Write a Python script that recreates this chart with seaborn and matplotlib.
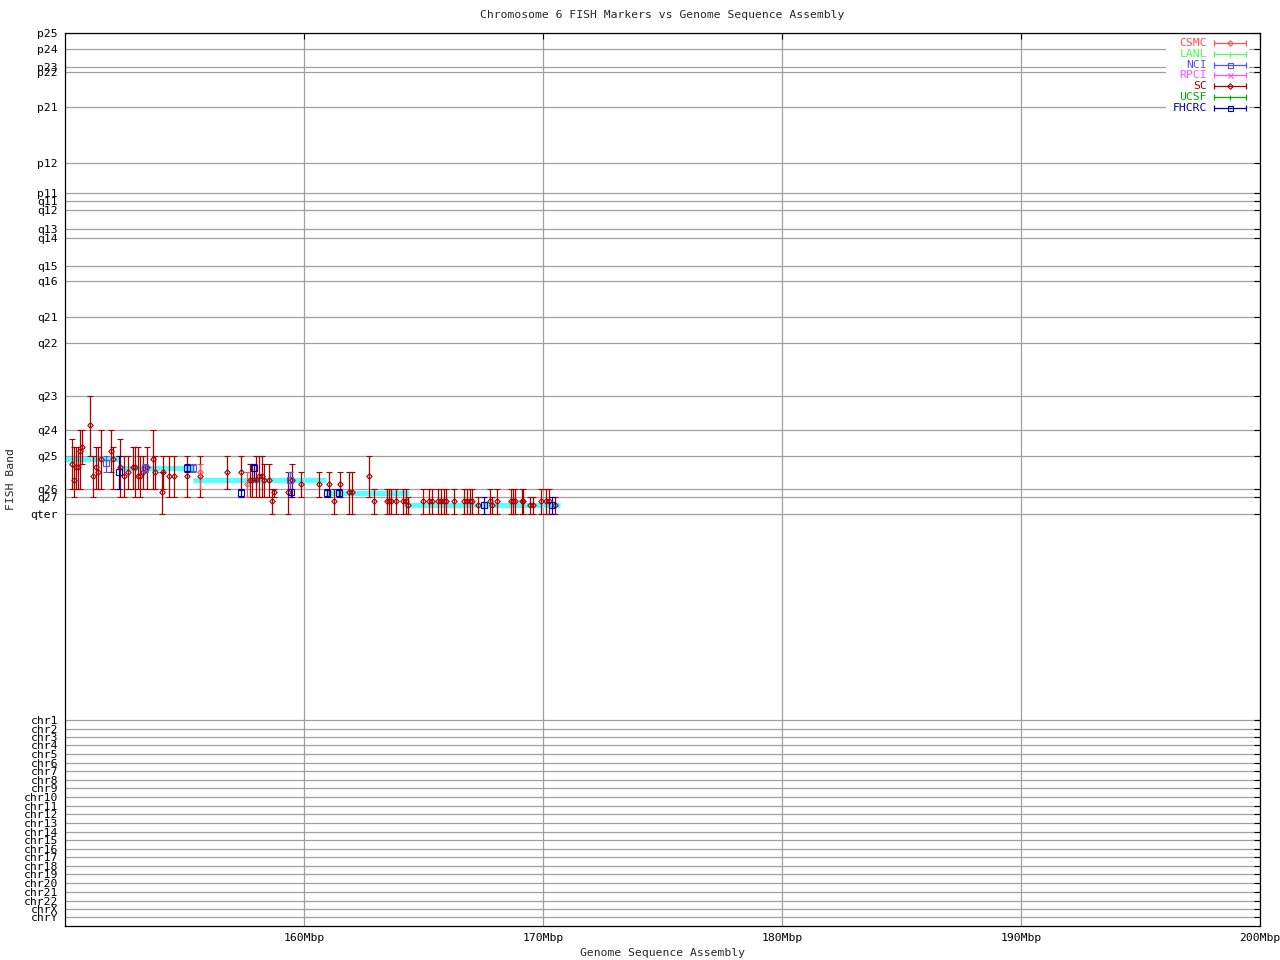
import numpy as np
import pandas as pd
import matplotlib
matplotlib.use('Agg')
import matplotlib.pyplot as plt
from matplotlib.patches import Rectangle
import seaborn as sns

# ---------------- data ----------------
# band ticks, y in "band coordinate" units (top of p arm = 33)
band_names = ['p25', 'p24', 'p23', 'p22', 'p21', 'p12', 'p11', 'q11', 'q12',
              'q13', 'q14', 'q15', 'q16', 'q21', 'q22', 'q23', 'q24', 'q25',
              'q26', 'q27', 'qter']
band_pos = [33, 49.3, 67.3, 72.3, 107, 163, 193.3, 201.3, 210,
            229.3, 238.3, 266.3, 281.3, 317.3, 343.3, 396.3, 429.7, 456,
            489.3, 497.3, 514]

chr_names = ['chr%d' % i for i in range(1, 23)] + ['chrX', 'chrY']
chr_pos = [720, 729, 737.3, 745, 754, 762.7, 771.3, 780, 788.3, 797, 806, 814,
           822.7, 831.7, 840, 849, 857, 865.7, 874.3, 883.3, 891.7, 900.7,
           909.3, 917.3]

xtick_mbp = [160, 170, 180, 190, 200]

# assembly (cyan) segments
asm_start = [150.0, 152.3, 155.35, 160.9, 164.2]
asm_end = [152.2, 155.4, 160.9, 164.4, 170.7]
asm_band = [459, 468, 480, 493, 505]

# SC markers: position (Mbp), band range low/high, band mid
sc_pos = [150.31, 150.39, 150.47, 150.56, 150.63, 150.71, 151.06, 151.18, 151.31,
          151.39, 151.52, 151.92, 152.02, 152.31, 152.48, 152.65, 152.83, 152.94,
          153.05, 153.14, 153.25, 153.44, 153.67, 153.75, 154.05, 154.11, 154.34,
          154.57, 155.12, 155.66, 156.79, 157.35, 157.74, 157.84, 157.98, 158.12,
          158.23, 158.34, 158.54, 158.68, 158.74, 159.34, 159.51, 159.86, 160.64,
          161.06, 161.27, 161.52, 161.87, 162.00, 162.73, 162.94, 163.46, 163.56,
          163.64, 163.84, 164.15, 164.25, 164.34, 164.99, 165.24, 165.34, 165.62,
          165.73, 165.85, 165.94, 166.28, 166.71, 166.82, 166.95, 167.04, 167.29,
          167.78, 167.88, 168.06, 168.65, 168.73, 168.83, 169.11, 169.18, 169.46,
          169.57, 169.90, 170.13, 170.26, 170.50]
sc_lo = [439, 447, 447, 447, 430, 430, 396, 456, 447,
         447, 430, 430, 447, 439, 456, 456, 447, 447,
         447, 456, 456, 447, 430, 456, 472, 456, 456,
         456, 456, 456, 456, 456, 464, 464, 456, 456,
         456, 464, 464, 489, 489, 472, 464, 472, 472,
         472, 489, 472, 472, 472, 456, 489, 489, 489,
         489, 489, 489, 489, 497, 489, 489, 489, 489,
         489, 489, 489, 489, 489, 489, 489, 489, 497,
         489, 497, 489, 489, 489, 489, 489, 489, 497,
         497, 489, 489, 489, 497]
sc_hi = [489, 497, 489, 489, 489, 464, 456, 497, 489,
         489, 489, 472, 489, 497, 497, 489, 489, 497,
         489, 497, 489, 489, 489, 489, 514, 489, 497,
         497, 497, 497, 489, 489, 497, 497, 497, 497,
         497, 497, 497, 514, 497, 514, 497, 497, 497,
         497, 514, 497, 514, 514, 497, 514, 514, 514,
         514, 514, 514, 514, 514, 514, 514, 514, 514,
         514, 514, 514, 514, 514, 514, 514, 514, 514,
         514, 514, 514, 514, 514, 514, 514, 514, 514,
         514, 514, 514, 514, 514]
sc_mid = [464, 480, 467, 467, 451, 447, 425, 476, 467,
          472, 459, 451, 459, 467, 476, 472, 467, 467,
          476, 476, 472, 467, 459, 472, 492, 472, 476,
          476, 476, 476, 472, 472, 480, 480, 480, 476,
          476, 480, 480, 501, 492, 492, 480, 484, 484,
          484, 501, 484, 492, 492, 476, 501, 501, 501,
          501, 501, 501, 501, 505, 501, 501, 501, 501,
          501, 501, 501, 501, 501, 501, 501, 501, 505,
          501, 505, 501, 501, 501, 501, 501, 501, 505,
          505, 501, 501, 501, 505]

fh_pos = [152.27, 155.12, 157.35, 157.92, 159.45, 160.95, 161.48, 167.53, 170.36]
fh_lo = [456, 464, 489, 464, 489, 489, 489, 497, 497]
fh_hi = [489, 472, 497, 480, 497, 497, 497, 514, 514]
fh_mid = [472, 468, 493, 468, 492, 493, 493, 505, 505]

nci_pos = [151.73, 153.35, 155.36, 159.41]
nci_lo = [456, 464, 464, 472]
nci_hi = [472, 472, 472, 489]
nci_mid = [463, 468, 468, 480]

csmc_pos = [155.66, 157.63]
csmc_lo = [464, 472]
csmc_hi = [489, 497]
csmc_mid = [472, 484]

legend_labels = ['CSMC', 'LANL', 'NCI', 'RPCI', 'SC', 'UCSF', 'FHCRC']
legend_colors = ['#ff5050', '#50ff50', '#5050ff', '#ff50ff', '#aa0000', '#00aa00', '#0000aa']
legend_markers = ['D', '|', 's', 'x', 'D', '|', 's']

# ---------------- style ----------------
sns.set_style('white')
plt.rcParams['font.family'] = ['DejaVu Sans Mono']
FS = 8.2

W, H = 1280, 960
def fx(px):
    return px / W
def fy(py):
    return 1 - py / H

fig = plt.figure(figsize=(12.8, 9.6), dpi=100)
ax = fig.add_axes([fx(65), fy(926), (1260 - 65) / W, (926 - 33) / H])
ax.set_axisbelow(True)

# assembly segments
ax.hlines(asm_band, asm_start, asm_end, color='#5cffff', lw=3.8, zorder=2)


def draw_lab(pos, lo, hi, mid, color, marker, ms):
    df = pd.DataFrame({'pos': pos, 'lo': lo, 'hi': hi, 'mid': mid})
    yerr = [df['mid'] - df['lo'], df['hi'] - df['mid']]
    ax.errorbar(df['pos'], df['mid'], yerr=yerr, fmt=marker, color=color,
                mfc='none', ms=ms, mew=0.8, elinewidth=0.9, capsize=2.5,
                capthick=0.9, zorder=3)


draw_lab(sc_pos, sc_lo, sc_hi, sc_mid, '#aa0000', 'D', 2.8)
draw_lab(csmc_pos, csmc_lo, csmc_hi, csmc_mid, '#ff5050', 'D', 2.8)
draw_lab(nci_pos, nci_lo, nci_hi, nci_mid, '#5050ff', 's', 4.2)
draw_lab(fh_pos, fh_lo, fh_hi, fh_mid, '#0000aa', 's', 4.2)

# axes, ticks, grid
ax.set_xlim(150, 200)
ax.set_ylim(926, 33)
ax.set_xticks(xtick_mbp)
ax.set_xticklabels(['%dMbp' % v for v in xtick_mbp])
ax.set_yticks(band_pos + chr_pos)
ax.set_yticklabels(band_names + chr_names)
ax.grid(True, color='#a0a0a0', lw=0.9)
ax.tick_params(direction='in', length=4.5, width=0.8, top=True, right=True,
               labelsize=FS, pad=5, colors='black')
for s in ax.spines.values():
    s.set_linewidth(0.9)
    s.set_color('black')

# texts
fig.text(fx(662), fy(15), 'Chromosome 6 FISH Markers vs Genome Sequence Assembly',
         ha='center', va='center', fontsize=FS)
fig.text(fx(662), fy(953), 'Genome Sequence Assembly', ha='center', va='center', fontsize=FS)
fig.text(fx(11), fy(479), 'FISH Band', ha='center', va='center', rotation=90, fontsize=FS)

# legend (drawn by hand, white block hides the grid)
ax.add_patch(Rectangle((fx(1166), fy(115)), (1249 - 1166) / W, (115 - 36) / H,
                       transform=fig.transFigure, fc='white', ec='none', zorder=1))
for i, (lab, col, mk) in enumerate(zip(legend_labels, legend_colors, legend_markers)):
    y = fy(42.7 + 10.9 * i)
    fig.text(fx(1207), y, lab, color=col, ha='right', va='center', fontsize=FS)
    ax.plot([fx(1214), fx(1246)], [y, y], color=col, lw=0.9,
            transform=fig.transFigure, clip_on=False, zorder=4)
    ax.plot([fx(1214), fx(1246)], [y, y], color=col, ls='none', marker='|', ms=5,
            mew=0.9, transform=fig.transFigure, clip_on=False, zorder=4)
    ax.plot([fx(1230)], [y], color=col, ls='none', marker=mk,
            ms=2.8 if mk == 'D' else 3.6, mfc='none', mew=0.8,
            transform=fig.transFigure, clip_on=False, zorder=4)

ax.set_xlim(150, 200)
ax.set_ylim(926, 33)
fig.savefig('out.png', dpi=100)
